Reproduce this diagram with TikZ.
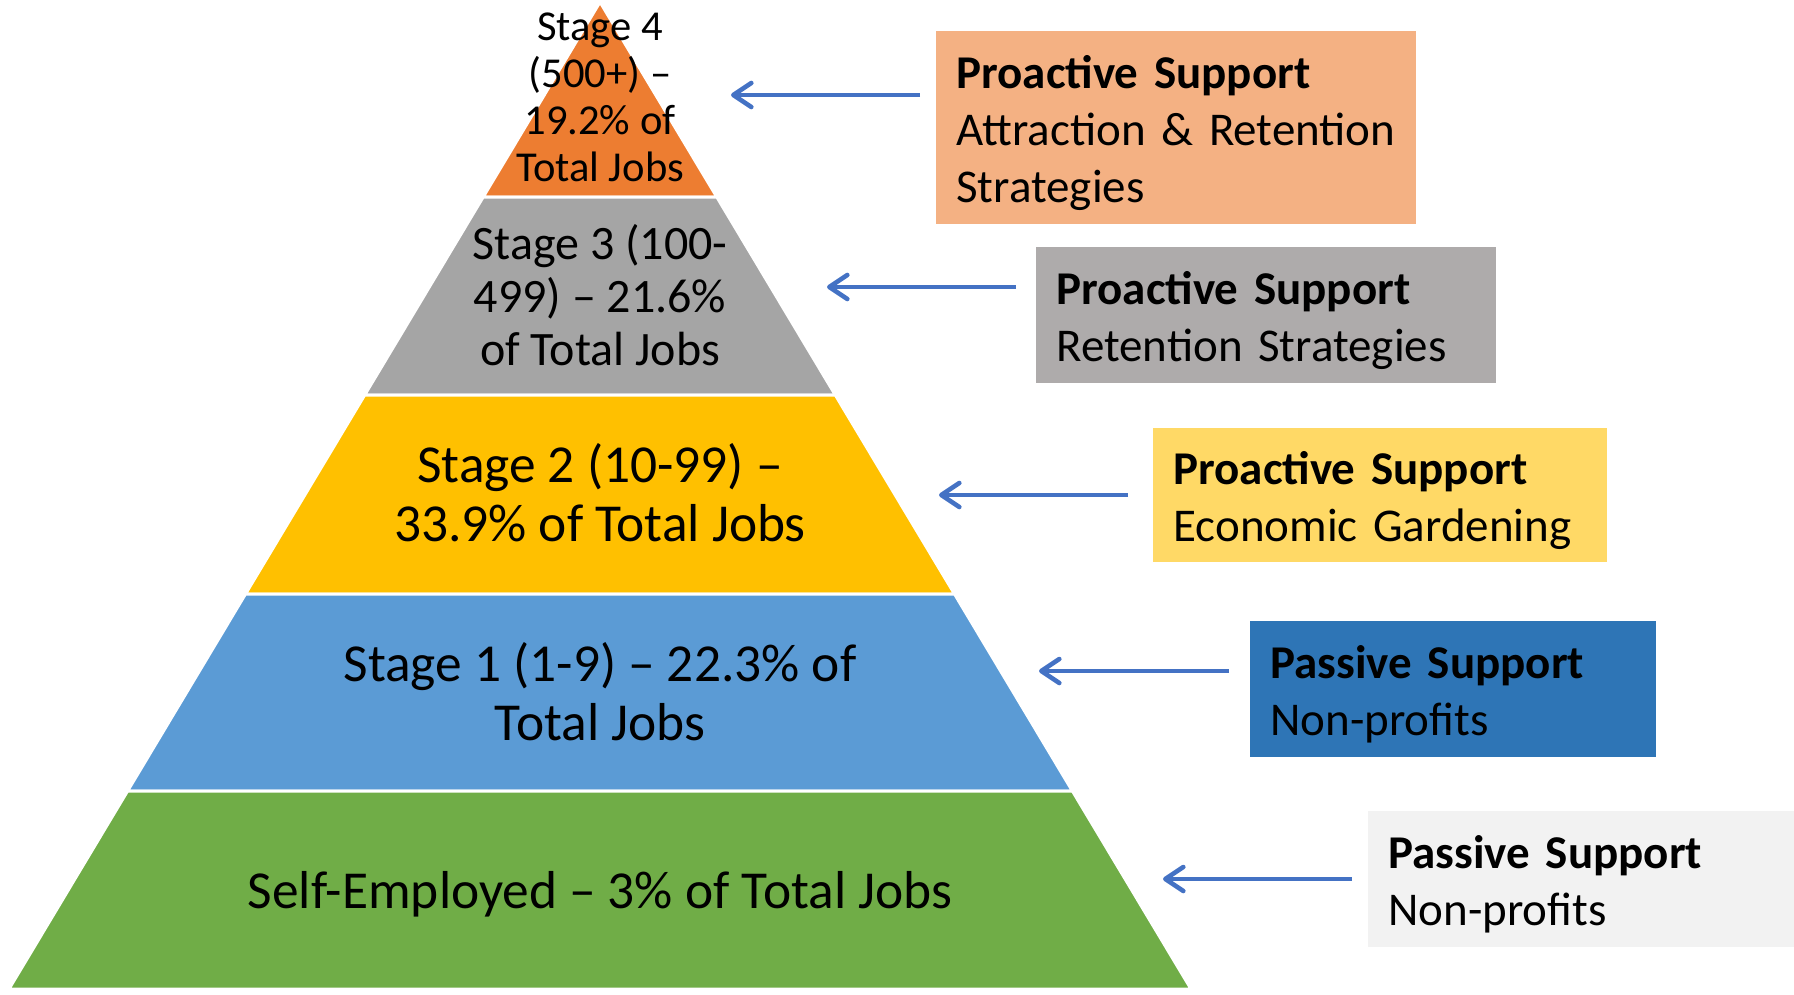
\documentclass[tikz,border=0pt]{standalone}
\usepackage{fontspec}
\setmainfont{Carlito}
\usepackage{tikz}
\usetikzlibrary{arrows.meta}
\definecolor{st_orange}{HTML}{ED7D31}
\definecolor{st_gray}{HTML}{A5A5A5}
\definecolor{st_yellow}{HTML}{FFC000}
\definecolor{st_blue}{HTML}{5B9BD5}
\definecolor{st_green}{HTML}{70AD47}
\definecolor{sup_orange}{HTML}{F4B183}
\definecolor{sup_gray}{HTML}{AEABAB}
\definecolor{sup_yellow}{HTML}{FFD966}
\definecolor{sup_blue}{HTML}{2E75B6}
\definecolor{sup_light}{HTML}{F2F2F2}
\definecolor{arr_blue}{HTML}{4472C4}
\newcommand{\toppad}{\rule{0pt}{21.5pt}}

\begin{document}
\begin{tikzpicture}[x=0.5pt, y=-0.5pt,
    layer/.style={draw=white, line width=1.5pt},
    stagetext/.style={align=center, inner sep=0pt},
    supbox/.style={anchor=north west, align=left, inner xsep=10pt, inner ysep=0pt,
        font=\fontsize{23.5}{28.6}\selectfont},
    arr/.style={draw=arr_blue, line width=2.3pt, -{Straight Barb[length=9pt, width=12pt, round]}}]
    \useasboundingbox (0,0) rectangle (1794,995);

    % pyramid layers
    \fill[st_orange, layer] (600,2) -- (716.8,197) -- (483.2,197) -- cycle;
    \fill[st_gray, layer] (483.2,197) -- (716.8,197) -- (835.3,395) -- (364.7,395) -- cycle;
    \fill[st_yellow, layer] (364.7,395) -- (835.3,395) -- (954.5,594) -- (245.5,594) -- cycle;
    \fill[st_blue, layer] (245.5,594) -- (954.5,594) -- (1072.4,791) -- (127.6,791) -- cycle;
    \fill[st_green, layer] (127.6,791) -- (1072.4,791) -- (1191,989) -- (9,989) -- cycle;

    \node[stagetext, font=\fontsize{21.3}{23.5}\selectfont] (s4) at (600,97)
        {Stage 4\\(500+) –\\19.2\% of\\Total Jobs};
    \node[stagetext, font=\fontsize{24}{26.5}\selectfont] (s3) at (600,295)
        {Stage 3 (100-\\499) – 21.6\%\\of Total Jobs};
    \node[stagetext, font=\fontsize{26.7}{29.5}\selectfont] (s2) at (600,493)
        {Stage 2 (10-99) –\\33.9\% of Total Jobs};
    \node[stagetext, font=\fontsize{26.7}{29.5}\selectfont] (s1) at (600,692)
        {Stage 1 (1-9) – 22.3\% of\\Total Jobs};
    \node[stagetext, font=\fontsize{26.7}{29.5}\selectfont] (s0) at (600,894)
        {Self-Employed – 3\% of Total Jobs};

    % support boxes
    \node[supbox, fill=sup_orange, minimum width=240pt, text width=220pt, minimum height=96.5pt]
        (b4) at (936,31) {\toppad\textbf{Proactive Support}\\Attraction \& Retention\\Strategies};
    \node[supbox, fill=sup_gray, minimum width=230pt, text width=210pt, minimum height=68pt]
        (b3) at (1036,247) {\toppad\textbf{Proactive Support}\\Retention Strategies};
    \node[supbox, fill=sup_yellow, minimum width=227pt, text width=207pt, minimum height=67pt]
        (b2) at (1153,428) {\toppad\textbf{Proactive Support}\\Economic Gardening};
    \node[supbox, fill=sup_blue, minimum width=203pt, text width=183pt, minimum height=68pt]
        (b1) at (1250,621) {\toppad\textbf{Passive Support}\\Non-profits};
    \node[supbox, fill=sup_light, minimum width=213pt, text width=193pt, minimum height=68pt]
        (b0) at (1368,811) {\toppad\textbf{Passive Support}\\Non-profits};

    % arrows
    \coordinate (t4) at (920,95);
    \coordinate (h4) at (731,95);
    \coordinate (t3) at (1016,287);
    \coordinate (h3) at (827,287);
    \coordinate (t2) at (1128,495);
    \coordinate (h2) at (939,495);
    \coordinate (t1) at (1229,671);
    \coordinate (h1) at (1039,671);
    \coordinate (t0) at (1352,879);
    \coordinate (h0) at (1163,879);
    \draw[arr] (t4) -- (h4);
    \draw[arr] (t3) -- (h3);
    \draw[arr] (t2) -- (h2);
    \draw[arr] (t1) -- (h1);
    \draw[arr] (t0) -- (h0);
\end{tikzpicture}
\end{document}
